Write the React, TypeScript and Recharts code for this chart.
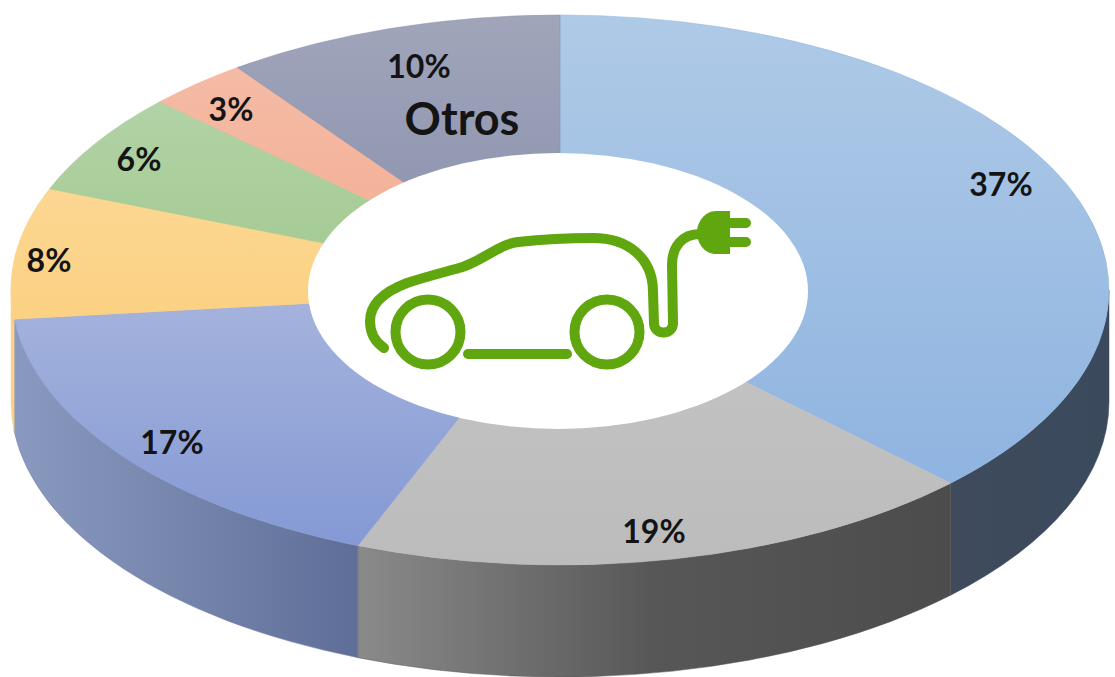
import { PieChart, Pie } from "recharts";

// Shares, clockwise from 12 o'clock. Printed labels are rounded.
const categories = ["A", "B", "C", "D", "E", "F", "Otros"];
const shares = [37.4, 18.6, 17.3, 7.7, 6, 3, 10];
const labels = ["37%", "19%", "17%", "8%", "6%", "3%", "10%"];

const topColors = [
  ["#afcae7", "#8fb4e0"],
  ["#c4c4c4", "#bcbcbc"],
  ["#a6b4dd", "#8499d4"],
  ["#fcd792", "#fbd183"],
  ["#b2d3a6", "#a2c990"],
  ["#f5bba5", "#f2ad91"],
  ["#a0a5ba", "#888fab"],
];
const wallColors = [
  ["#3f4b5c", "#3c4a5c", "#3a4a5c"],
  ["#8a8a8a", "#575757", "#4c4c4c"],
  ["#8999c0", "#7584ab", "#5f6e98"],
  ["#fbd08a", "#fbd08a", "#fbd08a"],
  ["#a2c990", "#a2c990", "#a2c990"],
  ["#f2ad91", "#f2ad91", "#f2ad91"],
  ["#888fab", "#888fab", "#888fab"],
];

const pieData = categories.map((name, i) => ({ name, value: shares[i] }));

// Layout of the tilted disc
const W = 1115;
const H = 677;
const CX = 560;
const CY = 290;
const RX = 549;
const RY = 275;
const DEPTH = 112;
const LABEL_XY = [
  [1001, 183],
  [654, 530],
  [172, 441],
  [49, 259],
  [139, 158],
  [231, 108],
  [419, 65],
];
const FONT = "Lato, 'Open Sans', sans-serif";
const GREEN = "#60a60e";

function pt(angle: number) {
  const a = (angle * Math.PI) / 180;
  return [CX + RX * Math.cos(a), CY - RY * Math.sin(a)];
}

// Recharts hands us circular angles, we flatten them to an ellipse here
function TiltedSlice(props: any, idx?: number) {
  const { startAngle, endAngle } = props;
  const i = idx ?? props.index ?? 0;
  const [x0, y0] = pt(startAngle);
  const [x1, y1] = pt(endAngle);
  const large = Math.abs(startAngle - endAngle) > 180 ? 1 : 0;
  const top = `M${CX} ${CY} L${x0} ${y0} A${RX} ${RY} 0 ${large} 1 ${x1} ${y1} Z`;

  // only the front half of the rim can be seen
  const hi = Math.min(startAngle, 0);
  const lo = Math.max(endAngle, -180);
  let wall = null;
  if (hi > lo) {
    const [wx0, wy0] = pt(hi);
    const [wx1, wy1] = pt(lo);
    const d = `M${wx0} ${wy0} A${RX} ${RY} 0 0 1 ${wx1} ${wy1} L${wx1} ${wy1 + DEPTH} A${RX} ${RY} 0 0 0 ${wx0} ${wy0 + DEPTH} Z`;
    wall = <path d={d} fill={`url(#wall${i})`} stroke={wallColors[i][1]} strokeWidth={0.5} />;
  }
  return (
    <g>
      {wall}
      <path d={top} fill={`url(#top${i})`} stroke={topColors[i][1]} strokeWidth={0.5} />
    </g>
  );
}

function sliceLabel(props: any) {
  const i = props.index ?? 0;
  const [x, y] = LABEL_XY[i];
  return (
    <text key={i} x={x} y={y} textAnchor="middle" dominantBaseline="central" fontFamily={FONT} fontWeight={700} fontSize={32} fill="#141414">
      {labels[i]}
    </text>
  );
}

function CarIcon() {
  return (
    <g fill="none" stroke={GREEN} strokeWidth={10} strokeLinecap="round" strokeLinejoin="round">
      <path d="M384 348 C375 342 370 332 370 321 C370 303 386 291 407 283 C425 277 445 272 459 268 C467 266 472 263 478 260 L498 249 C505 245 510 243 518 242 C545 239 570 238 593 238 C628 238 653 258 653 292 L654 323 C654 329 658 332.5 663.5 332.5 C669 332.5 673 329 673 323 L672 265 C672 247 682 234 700 234" />
      <circle cx={428} cy={332} r={32.5} />
      <circle cx={607} cy={332} r={32.5} />
      <path d="M468 354 L567 354" />
      <path d="M730 223 L746 223 M730 242 L746 242" />
      <path d="M730 211 L716 211 C705 211 697 222 697 232 C697 244 705 254 716 254 L730 254 Z" fill={GREEN} stroke="none" />
    </g>
  );
}

export default function App() {
  return (
    <div style={{ position: "absolute", left: 0, top: 0, width: W, height: H, overflow: "hidden", background: "#fff" }}>
      <PieChart width={W} height={H} margin={{ top: 0, right: 0, bottom: 0, left: 0 }}>
        <defs>
          {topColors.map((c, i) => (
            <linearGradient key={i} id={`top${i}`} x1="0" y1="0" x2="0" y2="1">
              <stop offset="0%" stopColor={c[0]} />
              <stop offset="100%" stopColor={c[1]} />
            </linearGradient>
          ))}
          {wallColors.map((c, i) => (
            <linearGradient key={i} id={`wall${i}`} x1="0" y1="0" x2="1" y2="0">
              <stop offset="0%" stopColor={c[0]} />
              <stop offset="50%" stopColor={c[1]} />
              <stop offset="100%" stopColor={c[2]} />
            </linearGradient>
          ))}
        </defs>
        <Pie
          data={pieData}
          dataKey="value"
          nameKey="name"
          cx={CX}
          cy={CY}
          innerRadius={0}
          outerRadius={RX}
          startAngle={90}
          endAngle={-270}
          paddingAngle={0}
          stroke="none"
          shape={TiltedSlice}
          label={sliceLabel}
          labelLine={false}
          isAnimationActive={false}
          zIndex={-1}
        />
        <ellipse cx={558} cy={291} rx={250} ry={138} fill="#fff" />
        <CarIcon />
        <text x={462} y={118} textAnchor="middle" dominantBaseline="central" fontFamily={FONT} fontWeight={700} fontSize={45} fill="#141414">
          Otros
        </text>
      </PieChart>
    </div>
  );
}
